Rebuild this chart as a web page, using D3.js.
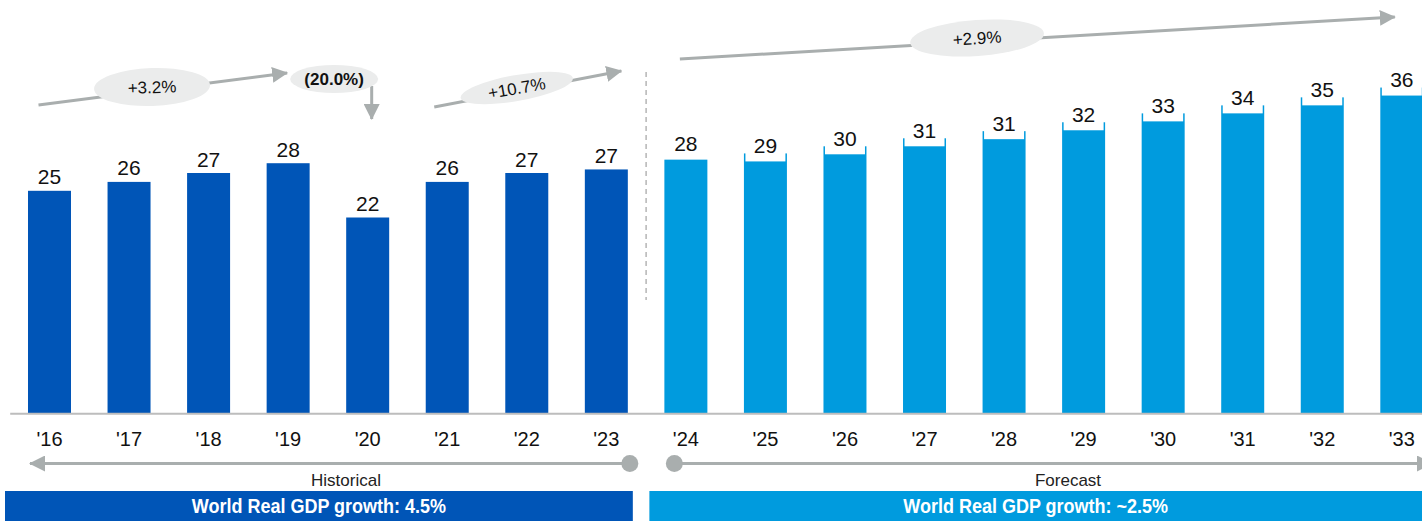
<!DOCTYPE html>
<html>
<head>
<meta charset="utf-8">
<script src="https://cdn.jsdelivr.net/npm/d3@7"></script>
<style>
  body { margin: 0; background: #fff; }
  svg { display: block; font-family: "Liberation Sans", Arial, sans-serif; }
</style>
</head>
<body>
<div id="chart"></div>
<script>
// World GDP bars, historical ('16-'23) vs forecast ('24-'33)

const years = ["'16", "'17", "'18", "'19", "'20", "'21", "'22", "'23", "'24",
               "'25", "'26", "'27", "'28", "'29", "'30", "'31", "'32", "'33"];
const values = [25.0, 26.0, 27.0, 28.1, 22.0, 26.0, 27.0, 27.4, 28.5,
                29.2, 30.0, 30.9, 31.7, 32.7, 33.7, 34.6, 35.5, 36.6];
const labels = [25, 26, 27, 28, 22, 26, 27, 27, 28, 29, 30, 31, 31, 32, 33, 34, 35, 36];
const firstForecast = "'24";
const growthNotes = ["+3.2%", "(20.0%)", "+10.7%", "+2.9%"];
const periodNames = ["Historical", "Forecast"];
const bandTexts = ["World Real GDP growth: 4.5%", "World Real GDP growth: ~2.5%"];

const width = 1422, height = 521;
const darkBlue = "#0055b7", lightBlue = "#009bde", grey = "#a9aeae";

const svg = d3.select("#chart")
    .append("svg")
    .attr("width", width)
    .attr("height", height);

const defs = svg.append("defs");
defs.append("marker")
    .attr("id", "head")
    .attr("viewBox", "0 0 16 16")
    .attr("refX", 15).attr("refY", 8)
    .attr("markerWidth", 16).attr("markerHeight", 16)
    .attr("markerUnits", "userSpaceOnUse")
    .attr("orient", "auto-start-reverse")
    .append("path")
    .attr("d", "M0,0 L16,8 L0,16 Z")
    .attr("fill", grey);

let x = d3.scaleBand()
    .domain(years)
    .range([9.7, 1441.6])
    .paddingInner(0.4595)
    .paddingOuter(0.23);

let y = d3.scaleLinear()
    .domain([0, 40])
    .range([413.3, 57.3]);

const bw = x.bandwidth();
const cx = i => x(years[i]) + bw / 2;
const fIdx = years.indexOf(firstForecast);
const isF = i => i >= fIdx;

const data = years.map((yr, i) => ({ yr, v: values[i], lab: labels[i], f: isF(i) }));

// bars
svg.append("g")
    .selectAll("rect")
    .data(data)
    .join("rect")
    .attr("x", d => x(d.yr))
    .attr("y", d => y(d.v))
    .attr("width", bw)
    .attr("height", d => y(0) - y(d.v))
    .attr("fill", d => d.f ? lightBlue : darkBlue);

// label backgrounds on forecast bars (first one sits clear of its bar)
svg.append("g")
    .selectAll("rect")
    .data(data.filter(d => d.f && d.yr !== firstForecast))
    .join("rect")
    .attr("x", d => x(d.yr) + 1.5)
    .attr("y", d => y(d.v) - 22)
    .attr("width", bw - 3)
    .attr("height", 30)
    .attr("fill", "#fff");

svg.append("g")
    .selectAll("text")
    .data(data)
    .join("text")
    .attr("x", d => x(d.yr) + bw / 2)
    .attr("y", d => y(d.v) - (d.yr === firstForecast ? 16 : d.f ? 8 : 14))
    .attr("dy", "0.36em")
    .attr("text-anchor", "middle")
    .style("font-size", "21px")
    .attr("fill", "#111")
    .text(d => d.lab);

// x axis
const xAxis = svg.append("g")
    .attr("transform", `translate(0,${y(0)})`)
    .call(d3.axisBottom(x).tickSize(0).tickPadding(19));
xAxis.select(".domain").attr("stroke", "#bdbdbd").attr("stroke-width", 2);
xAxis.selectAll("text").style("font-size", "20px").attr("fill", "#111")
    .style("font-family", "'Liberation Sans', Arial, sans-serif");

// divider between history and forecast
const divX = (x(years[fIdx - 1]) + bw + x(years[fIdx])) / 2;
svg.append("line")
    .attr("x1", divX).attr("x2", divX)
    .attr("y1", 72).attr("y2", 300)
    .attr("stroke", "#b5b5b5")
    .attr("stroke-width", 1.5)
    .attr("stroke-dasharray", "5,4");

// growth arrows
const arrows = [
    { x1: cx(0) - 11, y1: 105, x2: cx(3) - 1, y2: 73 },
    { x1: cx(4) + 4, y1: 86, x2: cx(4) + 4, y2: 119 },
    { x1: cx(5) - 13, y1: 107, x2: cx(7) + 15, y2: 71 },
    { x1: cx(8) - 6, y1: 59, x2: cx(17) - 7, y2: 17 }
];
svg.append("g")
    .selectAll("line")
    .data(arrows)
    .join("line")
    .attr("x1", d => d.x1).attr("y1", d => d.y1)
    .attr("x2", d => d.x2).attr("y2", d => d.y2)
    .attr("stroke", grey)
    .attr("stroke-width", 3)
    .attr("marker-end", "url(#head)");

const bubbles = [
    { x: cx(1) + 23, y: 87, rx: 58, ry: 19, rot: -2, size: 17, weight: "normal" },
    { x: cx(3) + 46, y: 79, rx: 44, ry: 14, rot: 0, size: 17, weight: "bold" },
    { x: cx(6) - 10, y: 88, rx: 57, ry: 13, rot: -10, size: 17, weight: "normal" },
    { x: cx(12) - 27, y: 38, rx: 67, ry: 18, rot: -4, size: 17, weight: "normal" }
];
const bub = svg.append("g")
    .selectAll("g")
    .data(bubbles)
    .join("g")
    .attr("transform", d => `translate(${d.x},${d.y}) rotate(${d.rot})`);
bub.append("ellipse")
    .attr("rx", d => d.rx).attr("ry", d => d.ry)
    .attr("fill", "#ebecec");
bub.append("text")
    .attr("text-anchor", "middle")
    .attr("dy", "0.36em")
    .style("font-size", d => d.size + "px")
    .style("font-weight", d => d.weight)
    .attr("fill", "#111")
    .text((d, i) => growthNotes[i]);

// timeline arrows
const tlY = 463.5;
const histEnd = x(years[fIdx - 1]) + bw + 2;
const foreStart = x(years[fIdx]) + 10;
svg.append("line")
    .attr("x1", histEnd).attr("y1", tlY)
    .attr("x2", 30).attr("y2", tlY)
    .attr("stroke", grey).attr("stroke-width", 3)
    .attr("marker-end", "url(#head)");
svg.append("line")
    .attr("x1", foreStart).attr("y1", tlY)
    .attr("x2", width + 10).attr("y2", tlY)
    .attr("stroke", grey).attr("stroke-width", 3)
    .attr("marker-end", "url(#head)");
svg.selectAll("circle.dot")
    .data([histEnd, foreStart])
    .join("circle")
    .attr("class", "dot")
    .attr("cx", d => d).attr("cy", tlY).attr("r", 8.5)
    .attr("fill", grey);

svg.selectAll("text.period")
    .data(periodNames)
    .join("text")
    .attr("class", "period")
    .attr("x", (d, i) => i === 0 ? 346 : 1068)
    .attr("y", 486)
    .attr("text-anchor", "middle")
    .style("font-size", "17px")
    .attr("fill", "#222")
    .text(d => d);

// growth bands
const bands = [
    { x0: 5, x1: histEnd + 3, fill: darkBlue },
    { x0: foreStart - 25, x1: width, fill: lightBlue }
];
svg.selectAll("rect.band")
    .data(bands)
    .join("rect")
    .attr("class", "band")
    .attr("x", d => d.x0).attr("y", 491)
    .attr("width", d => d.x1 - d.x0).attr("height", 30)
    .attr("fill", d => d.fill);
svg.selectAll("text.band")
    .data(bands)
    .join("text")
    .attr("class", "band")
    .attr("transform", d => `translate(${(d.x0 + d.x1) / 2},506) scale(0.9,1)`)
    .attr("dy", "0.36em")
    .attr("text-anchor", "middle")
    .style("font-size", "20px")
    .style("font-weight", "bold")
    .attr("fill", "#fff")
    .text((d, i) => bandTexts[i]);
</script>
</body>
</html>
